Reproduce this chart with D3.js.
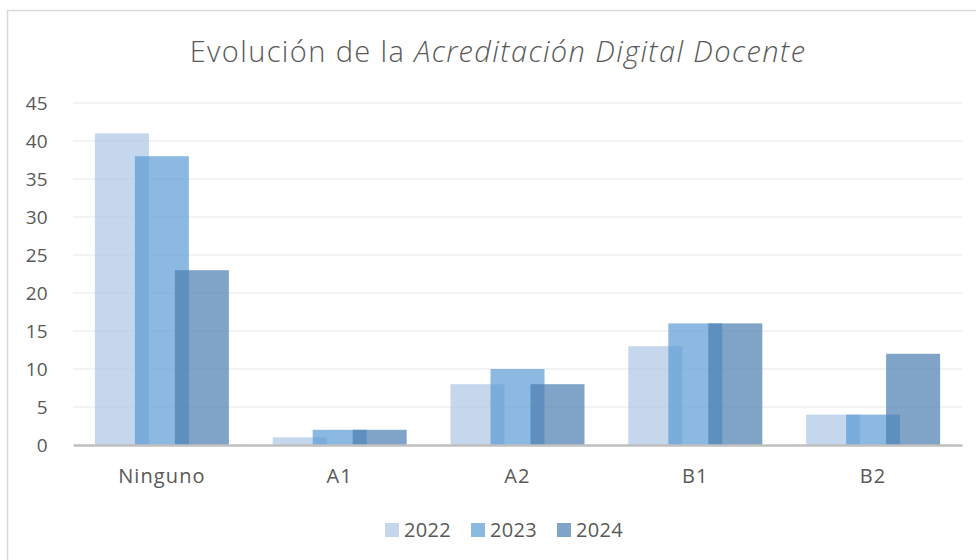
<!DOCTYPE html>
<html><head><meta charset="utf-8">
<script src="https://cdn.jsdelivr.net/npm/d3@7"></script>
<style>
html,body{margin:0;padding:0;background:#fff;}
svg{display:block;font-family:"Open Sans","Noto Sans",sans-serif;}
</style></head>
<body>
<svg id="c" width="976" height="560"></svg>
<script>
const categories = ["Ninguno", "A1", "A2", "B1", "B2"];
const seriesNames = ["2022", "2023", "2024"];
const values2022 = [41, 1, 8, 13, 4];
const values2023 = [38, 2, 10, 16, 4];
const values2024 = [23, 2, 8, 16, 12];
const yTicks = [0, 5, 10, 15, 20, 25, 30, 35, 40, 45];
const seriesValues = [values2022, values2023, values2024];
const colors = ["#acc6e4", "#5b9bd5", "#487eb0"];

const svg = d3.select("#c");
// chart border
svg.append("rect").attr("x", 7.5).attr("y", 10.5).attr("width", 980).attr("height", 570)
  .attr("fill", "#fff").attr("stroke", "#d9d9d9").attr("stroke-width", 1.5);

const pLeft = 73, pRight = 962, pTop = 103, pBottom = 445;
const x = d3.scaleBand().domain(categories).range([pLeft, pRight]);
const y = d3.scaleLinear().domain([0, 45]).range([pBottom, pTop]);

// title
const title = svg.append("text").attr("x", 498).attr("y", 62).attr("text-anchor", "middle")
  .attr("font-size", 29).attr("font-weight", 300).attr("fill", "#595959").attr("letter-spacing", 1.4);
title.append("tspan").text("Evolución de la ");
title.append("tspan").attr("font-style", "italic").text("Acreditación Digital Docente");

// gridlines
svg.append("g").selectAll("line").data(yTicks.filter(d => d > 0)).join("line")
  .attr("x1", pLeft).attr("x2", pRight).attr("y1", d => y(d)).attr("y2", d => y(d))
  .attr("stroke", "#efefef").attr("stroke-width", 1.5);

// y axis labels
const yAxis = d3.axisLeft(y).tickValues(yTicks).tickSize(0).tickPadding(0);
const gy = svg.append("g").attr("transform", `translate(48,0)`).call(yAxis);
gy.select(".domain").remove();
gy.selectAll("text").attr("font-size", 19).attr("fill", "#595959").attr("letter-spacing", 0.3)
  .attr("font-family", "\"Open Sans\",sans-serif");

// bars
const barW = 54, step = 40;
seriesValues.forEach((vals, si) => {
  svg.append("g").selectAll("rect").data(vals).join("rect")
    .attr("x", (d, i) => x(categories[i]) + x.bandwidth() / 2 - (barW + 2 * step) / 2 + si * step)
    .attr("y", d => y(d))
    .attr("width", barW)
    .attr("height", d => y(0) - y(d))
    .attr("fill", colors[si]).attr("fill-opacity", 0.7);
});

// x axis
const xAxis = d3.axisBottom(x).tickSize(0).tickPadding(24);
const gx = svg.append("g").attr("transform", `translate(0,${pBottom})`).call(xAxis);
gx.select(".domain").attr("stroke", "#bfbfbf").attr("stroke-width", 2.5);
gx.selectAll("text").attr("font-size", 20).attr("fill", "#595959").attr("letter-spacing", 1.1)
  .attr("font-family", "\"Open Sans\",sans-serif");

// legend
const legendX = [385, 471, 557];
const lg = svg.append("g");
seriesNames.forEach((n, i) => {
  lg.append("rect").attr("x", legendX[i]).attr("y", 523).attr("width", 14).attr("height", 14)
    .attr("fill", colors[i]).attr("fill-opacity", 0.7);
  lg.append("text").attr("x", legendX[i] + 19).attr("y", 537).attr("font-size", 20)
    .attr("letter-spacing", 0.3).attr("fill", "#595959").text(n);
});
</script>
</body></html>
